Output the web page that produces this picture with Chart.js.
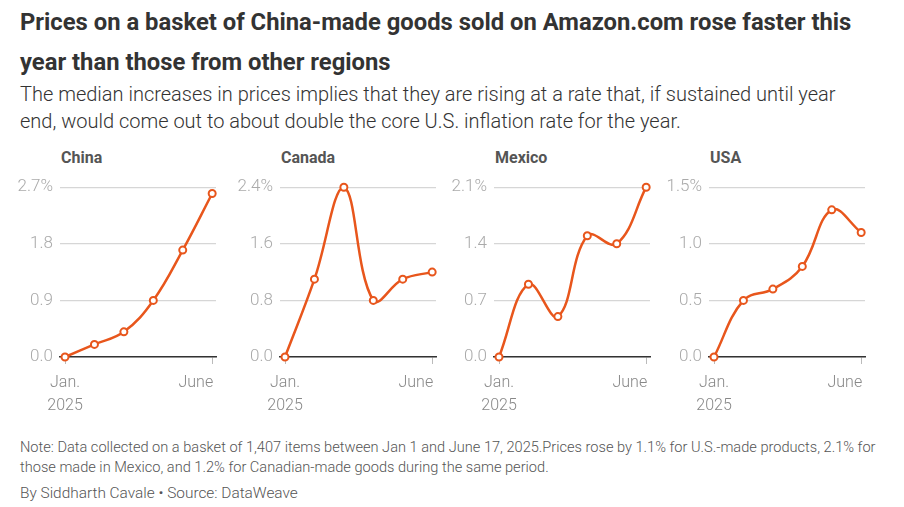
<!DOCTYPE html>
<html>
<head>
<meta charset="utf-8">
<script src="https://cdn.jsdelivr.net/npm/chart.js@4"></script>
<style>
  body { margin: 0; background: #fff; width: 904px; height: 507px; position: relative; overflow: hidden; font-family: Roboto, "Noto Sans", sans-serif; }
  .title { position: absolute; left: 20px; top: 2px; font-size: 23.8px; font-weight: 700; color: #333; line-height: 40px; }
  .sub { position: absolute; left: 20px; top: 81px; font-size: 20px; font-weight: 300; color: #333; line-height: 27px; }
  .panel-title { position: absolute; top: 148px; font-size: 16px; font-weight: 700; color: #555; }
  .panel { position: absolute; top: 170px; width: 222px; height: 260px; }
  .note { position: absolute; left: 20px; top: 437px; font-size: 14.6px; font-weight: 300; color: #555; line-height: 20px; }
  .byline { position: absolute; left: 20px; top: 484px; font-size: 15.4px; font-weight: 300; color: #555; }
</style>
</head>
<body>
<div class="title">Prices on a basket of China-made goods sold on Amazon.com rose faster this<br>year than those from other regions</div>
<div class="sub">The median increases in prices implies that they are rising at a rate that, if sustained until year<br>end, would come out to about double the core U.S. inflation rate for the year.</div>

<div id="charts"></div>

<div class="note">Note: Data collected on a basket of 1,407 items between Jan 1 and June 17, 2025.Prices rose by 1.1% for U.S.-made products, 2.1% for<br>those made in Mexico, and 1.2% for Canadian-made goods during the same period.</div>
<div class="byline">By Siddharth Cavale • Source: DataWeave</div>

<script>
// months Jan..June 2025, index 0..5
const months = [0, 1, 2, 3, 4, 5];
const regions = ["China", "Canada", "Mexico", "USA"];

const china = [0, 0.2, 0.4, 0.9, 1.7, 2.6];
const canada = [0, 1.1, 2.4, 0.8, 1.1, 1.2];
const mexico = [0, 0.9, 0.5, 1.5, 1.4, 2.1];
const usa = [0, 0.5, 0.6, 0.8, 1.3, 1.1];

const yTicks = [
    [0, 0.9, 1.8, 2.7],
    [0, 0.8, 1.6, 2.4],
    [0, 0.7, 1.4, 2.1],
    [0, 0.5, 1.0, 1.5]
];

const series = [china, canada, mexico, usa];
const panelLeft = [0, 220, 434, 649];

const orange = "#e8561c";

// draws Jan./2025 and June under the x axis
const xLabels = {
    id: "xLabels",
    afterDraw(chart) {
        const ctx = chart.ctx;
        const xs = chart.scales.x;
        const y0 = chart.chartArea.bottom;
        ctx.save();
        ctx.fillStyle = "#888";
        ctx.font = "300 16px Roboto, sans-serif";
        ctx.textBaseline = "middle";
        ctx.textAlign = "center";
        const xJan = xs.getPixelForValue(months[0]);
        ctx.fillText("Jan.", xJan, y0 + 26);
        ctx.fillText("2025", xJan, y0 + 49);
        ctx.textAlign = "right";
        ctx.fillText("June", xs.getPixelForValue(months[5]) + 1, y0 + 26);
        ctx.restore();
    }
};

const holder = document.getElementById("charts");

regions.forEach(function (name, i) {
    const t = document.createElement("div");
    t.className = "panel-title";
    t.style.left = (panelLeft[i] + 61) + "px";
    t.textContent = name;
    holder.appendChild(t);

    const box = document.createElement("div");
    box.className = "panel";
    box.style.left = panelLeft[i] + "px";
    const cv = document.createElement("canvas");
    box.appendChild(cv);
    holder.appendChild(box);

    const ticks = yTicks[i];
    const top = ticks[ticks.length - 1];

    new Chart(cv.getContext("2d"), {
        type: "line",
        data: {
            datasets: [{
                data: months.map((m, k) => ({ x: m, y: series[i][k] })),
                borderColor: orange,
                borderWidth: 2.5,
                tension: 0.4,
                pointRadius: 3.5,
                pointBorderWidth: 2,
                pointBackgroundColor: "#fff",
                pointBorderColor: orange,
                clip: false
            }]
        },
        options: {
            responsive: true,
            maintainAspectRatio: false,
            animation: false,
            layout: { padding: { top: 17, right: 4, left: 0, bottom: 0 } },
            plugins: { legend: { display: false }, tooltip: { enabled: false } },
            scales: {
                x: {
                    type: "linear",
                    min: -0.17,
                    max: 5.13,
                    afterBuildTicks: function (s) { s.ticks = [{ value: 0 }, { value: 5 }]; },
                    afterFit: function (s) { s.height = 73; },
                    ticks: { display: false },
                    grid: { drawOnChartArea: false, drawTicks: true, tickLength: 7, color: "#bbb" },
                    border: { display: true, color: "#333", width: 1.5 }
                },
                y: {
                    min: 0,
                    max: top,
                    afterBuildTicks: function (s) { s.ticks = ticks.map(v => ({ value: v })); },
                    afterFit: function (s) { s.width = 60; },
                    ticks: {
                        padding: 7,
                        color: "#aaa",
                        font: { family: "Roboto", size: 17, weight: 300 },
                        callback: function (v) {
                            const txt = Number(v).toFixed(1);
                            return v === top ? txt + "%" : txt;
                        }
                    },
                    grid: { drawTicks: false, color: "#d6d6d6", lineWidth: 1.2 },
                    border: { display: false }
                }
            }
        },
        plugins: [xLabels]
    });
});
</script>
</body>
</html>
